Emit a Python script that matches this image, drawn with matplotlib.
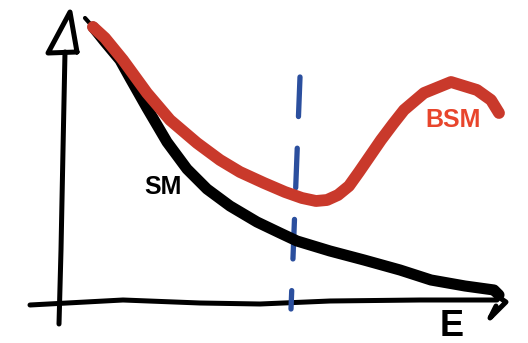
import matplotlib
matplotlib.use("Agg")
import matplotlib.pyplot as plt

# Hand-drawn sketch: coordinates (pixel space)
sm_x = [93, 105, 120, 130, 147, 167, 187, 207, 230, 257, 280, 297, 330, 364, 400, 431, 465, 494, 499]
sm_y = [27, 42, 60, 78, 108, 142, 169, 189, 206, 222, 233, 241, 251, 260, 270, 280, 286, 290, 295]
sm_tip_x = [85, 93]
sm_tip_y = [18, 27]

bsm_x = [93, 105, 123, 147, 170, 197, 220, 240, 264, 285, 302, 316, 327, 338, 349, 359, 370, 381, 393, 404, 424, 451, 477, 491, 499]
bsm_y = [27, 38, 60, 93, 120, 143, 160, 172, 183, 192, 198, 201, 200, 195, 186, 172, 156, 140, 124, 110, 93, 82, 90, 100, 113]

yaxis_x = [65, 63, 61, 59]
yaxis_y = [52, 150, 250, 324]
yhead_x = [77, 70, 48, 77]
yhead_y = [52, 12, 53, 52]

xaxis_x = [30, 123, 200, 260, 330, 420, 497]
xaxis_y = [305, 300, 303, 304, 301, 300, 300]
xhead_x = [488, 506, 490, 496]
xhead_y = [290, 302, 318, 306]

cut_x = [300, 291]
cut_y = [77, 309]

fig = plt.figure(figsize=(5.28, 3.43), dpi=100)
ax = fig.add_axes([0, 0, 1, 1])
ax.set_xlim(0, 528)
ax.set_ylim(343, 0)
ax.axis("off")

kw = dict(solid_capstyle="round", solid_joinstyle="round")
ax.plot(yaxis_x, yaxis_y, color="black", lw=3.6, **kw)
ax.plot(yhead_x, yhead_y, color="black", lw=3.6, **kw)
ax.plot(xaxis_x, xaxis_y, color="black", lw=3.6, **kw)
ax.plot(xhead_x, xhead_y, color="black", lw=3.6, **kw)

ax.plot(cut_x, cut_y, color="#2b4f9e", lw=3.8, linestyle=(0, (7.5, 6)), dash_capstyle="round")

ax.plot(sm_tip_x, sm_tip_y, color="black", lw=3, **kw)
ax.plot(sm_x, sm_y, color="black", lw=8, **kw)
ax.plot(bsm_x, bsm_y, color="#c9392b", lw=8.5, **kw)

ax.text(163, 187, "SM", fontsize=18, fontweight="bold", family="Liberation Sans",
        ha="center", va="center", color="black")
ax.text(453, 120, "BSM", fontsize=18, fontweight="bold", family="Liberation Sans",
        ha="center", va="center", color="#e8452c")
ax.text(452, 326, "E", fontsize=26, fontweight="bold", family="Liberation Sans",
        ha="center", va="center", color="black")

fig.savefig("out.png", dpi=100, facecolor="white")
